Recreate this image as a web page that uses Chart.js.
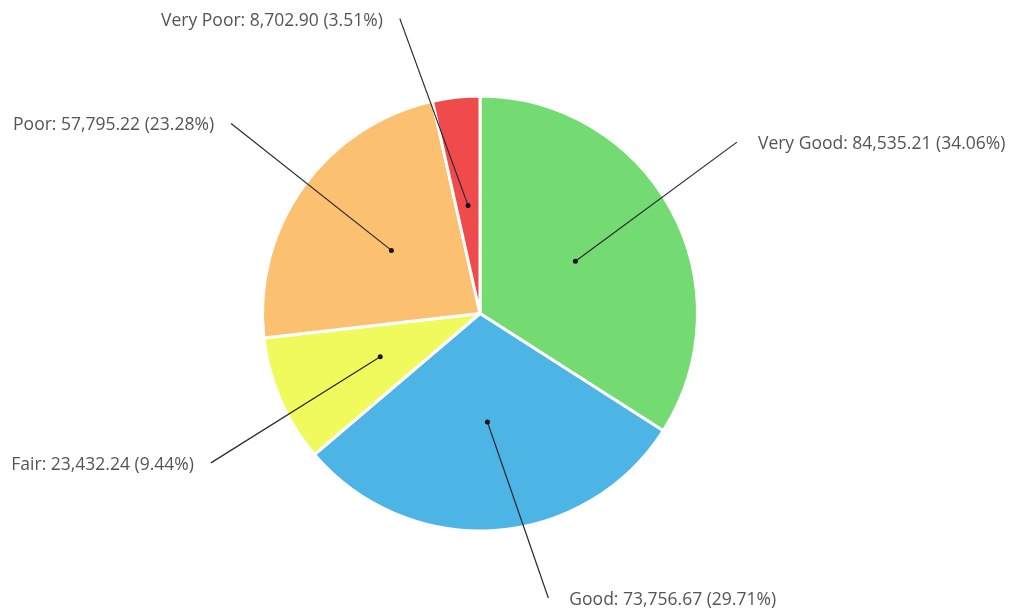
<!DOCTYPE html>
<html>
<head>
<meta charset="utf-8">
<script src="https://cdn.jsdelivr.net/npm/chart.js@4.4.1/dist/chart.umd.min.js"></script>
<style>
  html, body { margin: 0; padding: 0; background: #fff; }
  #wrap { width: 1011px; height: 612px; position: relative; }
</style>
</head>
<body>
<div id="wrap"><canvas id="chart"></canvas></div>
<script>
// data
const categories = ['Very Good', 'Good', 'Fair', 'Poor', 'Very Poor'];
const values = [84535.21, 73756.67, 23432.24, 57795.22, 8702.90];
const colours = ['#73DB71', '#4DB5E6', '#F1FA5C', '#FCC071', '#F04B4C'];

// where each callout ends: angle shift (deg) from slice middle and length in radii
const calloutShift = [-5, -9.6, -5.6, 1.9, -8.9];
const calloutLength = [1.42, 1.345, 1.415, 1.44, 1.405];

const total = values.reduce((a, b) => a + b, 0);
const fmt = v => v.toLocaleString('en-US', { minimumFractionDigits: 2, maximumFractionDigits: 2 });

const calloutPlugin = {
    id: 'callouts',
    afterDatasetsDraw(chart) {
        const ctx = chart.ctx;
        const meta = chart.getDatasetMeta(0);
        ctx.save();
        ctx.font = '17.5px "Open Sans", sans-serif';
        ctx.textBaseline = 'middle';
        meta.data.forEach((arc, i) => {
            const p = arc.getProps(['x', 'y', 'startAngle', 'endAngle', 'outerRadius'], true);
            const mid = (p.startAngle + p.endAngle) / 2;
            const R = p.outerRadius;
            const dx = p.x + Math.cos(mid) * R * 0.5;
            const dy = p.y + Math.sin(mid) * R * 0.5;
            const a2 = mid + calloutShift[i] * Math.PI / 180;
            const ex = p.x + Math.cos(a2) * R * calloutLength[i];
            const ey = p.y + Math.sin(a2) * R * calloutLength[i];

            ctx.strokeStyle = '#2a2a2a';
            ctx.lineWidth = 1.2;
            ctx.beginPath();
            ctx.moveTo(dx, dy);
            ctx.lineTo(ex, ey);
            ctx.stroke();

            ctx.fillStyle = '#111';
            ctx.beginPath();
            ctx.arc(dx, dy, 2.5, 0, Math.PI * 2);
            ctx.fill();

            const pct = (values[i] / total * 100).toFixed(2);
            const txt = categories[i] + ': ' + fmt(values[i]) + ' (' + pct + '%)';
            ctx.fillStyle = '#555';
            if (Math.cos(a2) >= 0) {
                ctx.textAlign = 'left';
                ctx.fillText(txt, ex + 21, ey + 2);
            } else {
                ctx.textAlign = 'right';
                ctx.fillText(txt, ex - 17, ey + 2);
            }
        });
        ctx.restore();
    }
};

new Chart(document.getElementById('chart'), {
    type: 'pie',
    data: {
        labels: categories,
        datasets: [{
            data: values,
            backgroundColor: colours,
            borderColor: '#fff',
            borderWidth: 3
        }]
    },
    options: {
        responsive: true,
        maintainAspectRatio: false,
        animation: false,
        layout: {
            padding: { top: 94, bottom: 79, left: 261, right: 312 }
        },
        plugins: {
            legend: { display: false },
            tooltip: { enabled: false }
        }
    },
    plugins: [calloutPlugin]
});
</script>
</body>
</html>
